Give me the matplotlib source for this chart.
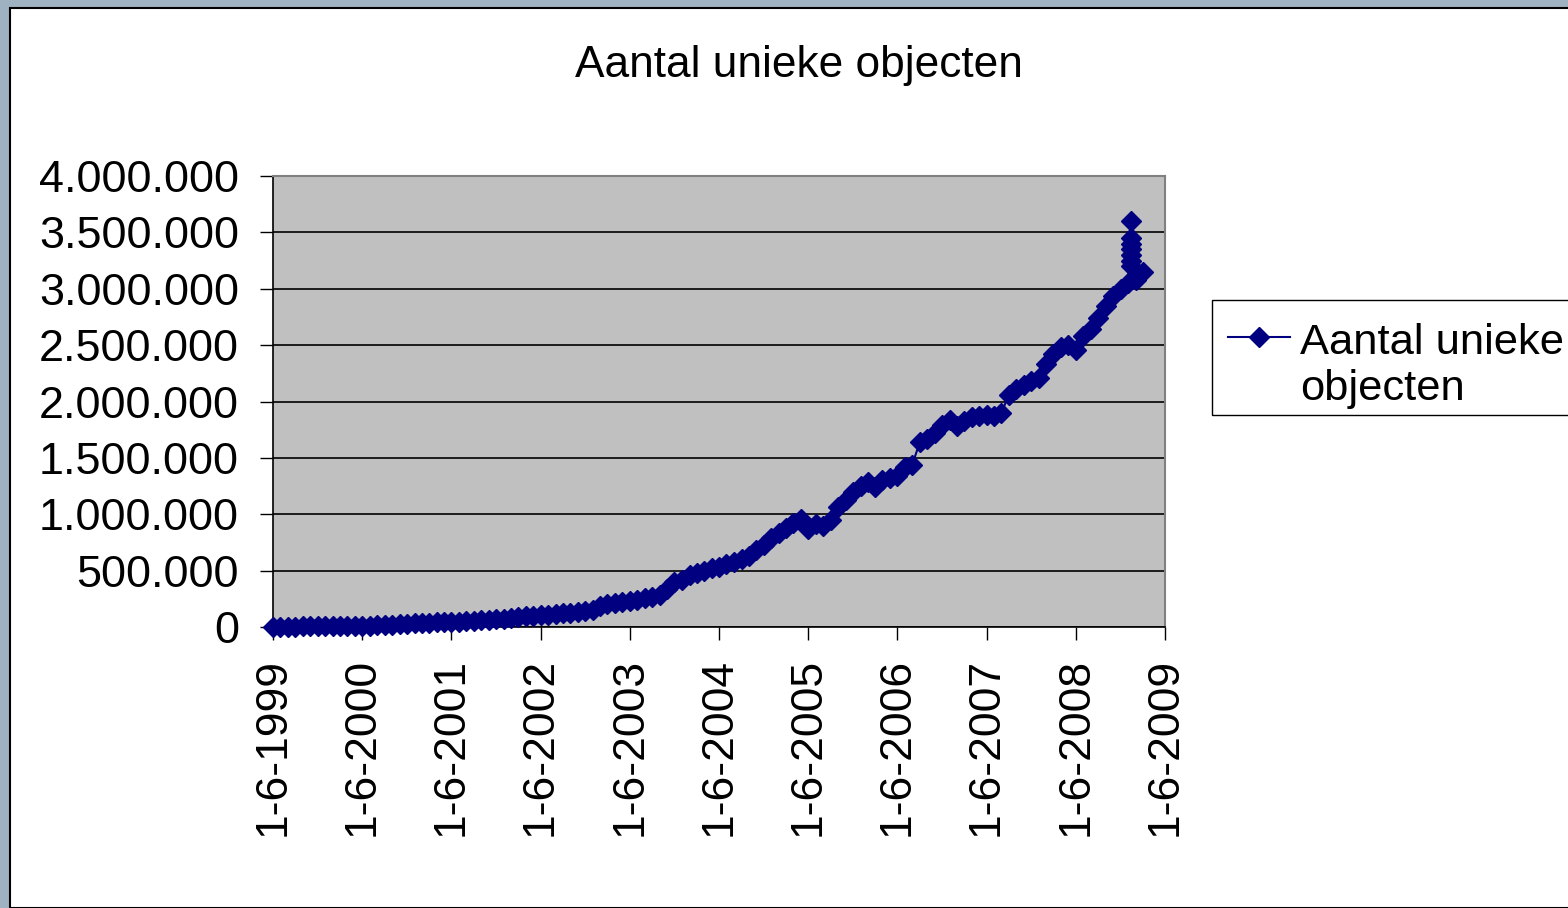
import matplotlib
matplotlib.use("Agg")
import matplotlib.pyplot as plt
from matplotlib.patches import Rectangle
from matplotlib.lines import Line2D
import pandas as pd

plt.rcParams['font.family'] = ['Liberation Sans', 'DejaVu Sans']

# monthly counts (thousands), June 1999 .. January 2009
monthly_values = [
    0, 2, 3, 4, 5, 6, 6, 7, 8, 9, 10, 10,
    10, 12, 15, 18, 22, 25, 28, 32, 35, 38, 40, 43,
    45, 48, 52, 56, 60, 65, 70, 75, 82, 88, 95, 100,
    105, 110, 115, 120, 128, 135, 145, 155, 190, 200, 210, 220,
    230, 240, 255, 265, 280, 340, 395, 420, 460, 480, 500, 520,
    535, 555, 580, 600, 630, 680, 730, 790, 830, 880, 920, 960,
    870, 910, 900, 950, 1060, 1130, 1200, 1250, 1290, 1240, 1300, 1320,
    1340, 1420, 1440, 1640, 1670, 1720, 1790, 1840, 1780, 1830, 1860, 1870,
    1880, 1870, 1900, 2060, 2110, 2150, 2180, 2210, 2330, 2420, 2480, 2500,
    2460, 2580, 2640, 2740, 2850, 2940, 3000, 3050,
]
# last few readings, taken at irregular dates
tail_dates = ['2009-01-12'] * 7 + ['2009-02-01', '2009-03-01']
tail_values = [3600, 3450, 3400, 3350, 3300, 3250, 3200, 3080, 3150]

monthly_dates = pd.date_range('1999-06-01', periods=len(monthly_values), freq='MS')
dates = list(monthly_dates) + list(pd.to_datetime(tail_dates))
values = [v * 1000 for v in monthly_values + tail_values]

tick_years = list(range(1999, 2010))
tick_dates = [pd.Timestamp(f'{y}-06-01') for y in tick_years]
tick_labels = [f'1-6-{y}' for y in tick_years]
y_ticks = [0, 500000, 1000000, 1500000, 2000000, 2500000, 3000000, 3500000, 4000000]
y_labels = ['0', '500.000', '1.000.000', '1.500.000', '2.000.000',
            '2.500.000', '3.000.000', '3.500.000', '4.000.000']

navy = '#000080'
W, H = 1568, 908

fig = plt.figure(figsize=(W / 100, H / 100), dpi=100)
fig.patch.set_facecolor('#9fb2c2')
# white chart area with black frame on top/left (screenshot edge)
fig.add_artist(Rectangle((10 / W, 0), 1.0, 1 - 8 / H, transform=fig.transFigure,
                         facecolor='white', edgecolor='black', linewidth=1.5, zorder=-10))

ax = fig.add_axes([273 / W, 1 - 627 / H, (1165 - 273) / W, (627 - 176) / H])
ax.set_facecolor('#c0c0c0')

ax.plot(dates, values, color=navy, linewidth=1.5, marker='D', markersize=10,
        markeredgecolor=navy, markerfacecolor=navy, clip_on=False, zorder=3)

ax.set_xlim(tick_dates[0], tick_dates[-1])
ax.set_ylim(0, 4000000)
ax.set_xticks(tick_dates)
ax.set_xticklabels(tick_labels, rotation=90, fontsize=32)
ax.set_yticks(y_ticks)
ax.set_yticklabels(y_labels, fontsize=32.4)
ax.tick_params(axis='both', direction='out', length=9.5, width=1, color='black')
ax.tick_params(axis='y', pad=15)
ax.tick_params(axis='x', pad=13)

ax.yaxis.grid(True, color='black', linewidth=1.2)
ax.set_axisbelow(True)
for side in ['top', 'right']:
    ax.spines[side].set_color('#808080')
    ax.spines[side].set_linewidth(1.5)
for side in ['left', 'bottom']:
    ax.spines[side].set_color('black')
    ax.spines[side].set_linewidth(1.2)

fig.text(799 / W, 1 - 66 / H, 'Aantal unieke objecten', fontsize=31.9,
         ha='center', va='center')

# legend box runs past the right edge of the picture
fig.add_artist(Rectangle((1212 / W, 1 - 415 / H), 0.5, 115 / H, transform=fig.transFigure,
                         facecolor='white', edgecolor='black', linewidth=1))
fig.add_artist(Line2D([1228 / W, 1290 / W], [1 - 337 / H, 1 - 337 / H],
                      transform=fig.transFigure, color=navy, linewidth=1.5))
fig.add_artist(Line2D([1259 / W], [1 - 337 / H], transform=fig.transFigure,
                      marker='D', markersize=10, color=navy))
fig.text(1300 / W, 1 - 354 / H, 'Aantal unieke', fontsize=31.3, va='baseline')
fig.text(1300 / W, 1 - 400 / H, 'objecten', fontsize=31.3, va='baseline')

fig.savefig('out.png', dpi=100, facecolor=fig.get_facecolor())
